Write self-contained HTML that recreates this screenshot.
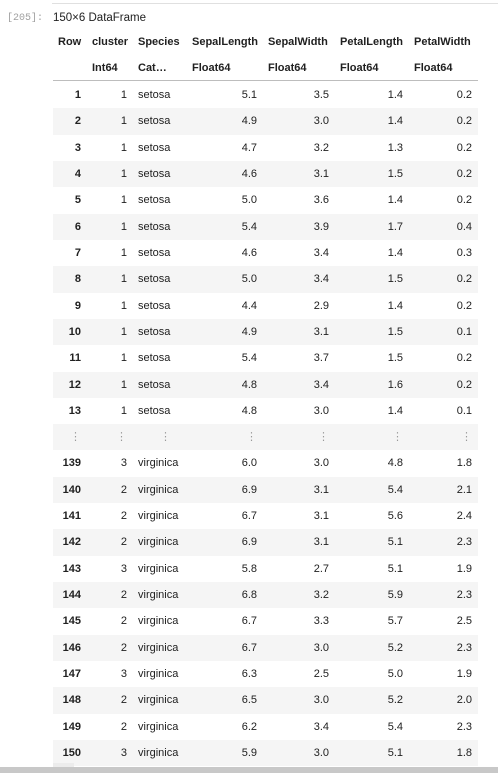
<!DOCTYPE html>
<html><head><meta charset="utf-8">
<style>
html,body{margin:0;padding:0;background:#fff;}
body{width:498px;height:773px;position:relative;overflow:hidden;font-family:"Liberation Sans","DejaVu Sans",sans-serif;font-size:11px;color:#212121;}
.topline{position:absolute;left:52px;top:0;width:446px;height:3px;border-bottom:1px solid #e0e0e0;}
.prompt{position:absolute;left:7px;top:13px;font-family:"Liberation Mono",monospace;font-size:10px;color:#a0a0a0;}
.title{position:absolute;left:53px;top:12px;font-size:11.5px;}
.row{position:absolute;left:53px;width:425px;height:26.3px;}
.row.g{background:#f5f5f5;}
.c{position:absolute;top:0;height:100%;line-height:26.3px;box-sizing:border-box;white-space:nowrap;}
.r{text-align:right;padding-right:6px;}
.l{text-align:left;padding-left:5px;}
.b{font-weight:bold;}
.hdr{position:absolute;left:53px;width:425px;}
.sep{position:absolute;left:53px;top:80px;width:425px;height:1px;background:#bdbdbd;}
.dots{color:#999;font-weight:normal;}
.bottom{position:absolute;left:0;top:767px;width:498px;height:6px;background:#c8c8c8;}
.sq{position:absolute;left:53px;top:763px;width:21px;height:4px;background:#ececec;}
</style></head>
<body>
<div class="topline"></div>
<div class="prompt">[205]:</div>
<div class="title">150×6 DataFrame</div>
<div id="tbl"></div>
<div class="sep"></div>
<div class="sq"></div>
<div class="bottom"></div>
<script>
const cols=[[0,34],[34,46],[80,54],[134,76],[210,72],[282,74],[356,69]];
const headers=["Row","cluster","Species","SepalLength","SepalWidth","PetalLength","PetalWidth"];
const types=["","Int64","Cat…","Float64","Float64","Float64","Float64"];
const rowIds=["1","2","3","4","5","6","7","8","9","10","11","12","13","⋮","139","140","141","142","143","144","145","146","147","148","149","150"];
const clusters=["1","1","1","1","1","1","1","1","1","1","1","1","1","⋮","3","2","2","2","3","2","2","2","3","2","2","3"];
const species=["setosa","setosa","setosa","setosa","setosa","setosa","setosa","setosa","setosa","setosa","setosa","setosa","setosa","⋮","virginica","virginica","virginica","virginica","virginica","virginica","virginica","virginica","virginica","virginica","virginica","virginica"];
const sepalLength=["5.1","4.9","4.7","4.6","5.0","5.4","4.6","5.0","4.4","4.9","5.4","4.8","4.8","⋮","6.0","6.9","6.7","6.9","5.8","6.8","6.7","6.7","6.3","6.5","6.2","5.9"];
const sepalWidth=["3.5","3.0","3.2","3.1","3.6","3.9","3.4","3.4","2.9","3.1","3.7","3.4","3.0","⋮","3.0","3.1","3.1","3.1","2.7","3.2","3.3","3.0","2.5","3.0","3.4","3.0"];
const petalLength=["1.4","1.4","1.3","1.5","1.4","1.7","1.4","1.5","1.4","1.5","1.5","1.6","1.4","⋮","4.8","5.4","5.6","5.1","5.1","5.9","5.7","5.2","5.0","5.2","5.4","5.1"];
const petalWidth=["0.2","0.2","0.2","0.2","0.2","0.4","0.3","0.2","0.2","0.1","0.2","0.2","0.1","⋮","1.8","2.1","2.4","2.3","1.9","2.3","2.5","2.3","1.9","2.0","2.3","1.8"];
const tbl=document.getElementById('tbl');
function hdrRow(top,vals,bold,name){
  const d=document.createElement('div');d.className='hdr';d.style.top=top+'px';d.style.height='26px';
  
  
  vals.forEach((v,i)=>{const c=document.createElement('div');c.className='c l'+(bold?' b':'');
    c.style.left=cols[i][0]+'px';c.style.width=cols[i][1]+'px';c.style.lineHeight='26px';c.textContent=v;
    
    
    d.appendChild(c);});
  tbl.appendChild(d);
}
hdrRow(29,headers,true,'column-names-row');
hdrRow(55,types,true,'column-types-row');
const series=[rowIds,clusters,species,sepalLength,sepalWidth,petalLength,petalWidth];
for(let r=0;r<rowIds.length;r++){
  const d=document.createElement('div');d.className='row'+(r%2?' g':'');
  d.style.top=(82+r*26.32)+'px';
  const dots=rowIds[r]==='⋮';
  
  
  series.forEach((s,i)=>{const c=document.createElement('div');
    c.className='c '+(i===2&&!dots?'l':'r')+(i===0?' b':'')+(dots?' dots':'');
    c.style.left=cols[i][0]+'px';c.style.width=cols[i][1]+'px';c.textContent=s[r];
    if(dots&&i===2){c.style.width='44px';}
    
    
    d.appendChild(c);});
  tbl.appendChild(d);
}
</script>
</body></html>
